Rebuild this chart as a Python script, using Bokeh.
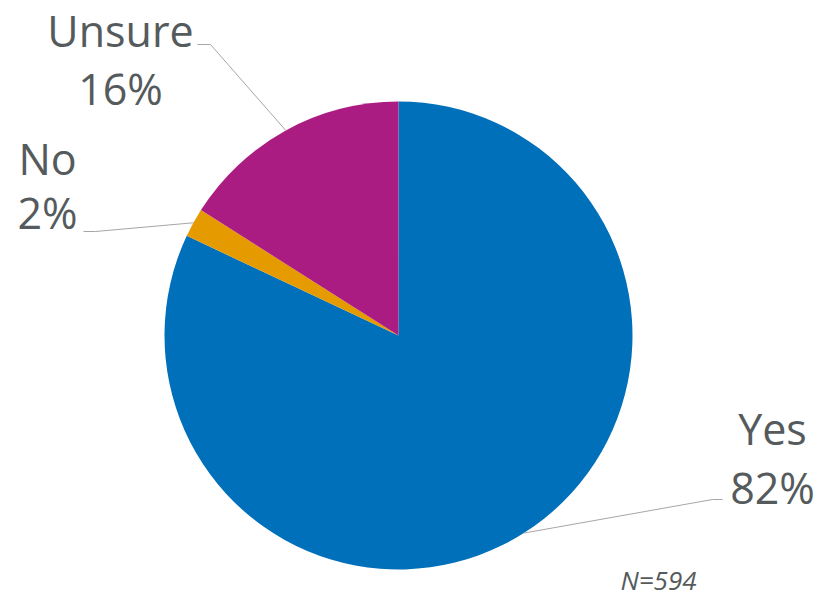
import math
from bokeh.plotting import figure
from bokeh.models import Range1d, ColumnDataSource
from bokeh.core.properties import value
from bokeh.embed import file_html
from bokeh.resources import INLINE

categories = ["Yes", "No", "Unsure"]
percents = [82, 2, 16]
colors = ["#0070BA", "#E59A00", "#AB1C83"]
note = "N=594"

W, H = 818, 600
p = figure(width=W, height=H, output_backend="svg", toolbar_location=None,
           x_range=Range1d(0, W), y_range=Range1d(0, H), min_border=0)
p.axis.visible = False
p.grid.visible = False
p.outline_line_color = None

def Y(y):
    return H - y

cx, cy, r = 398, Y(335), 234
total = sum(percents)
starts, ends, mids = [], [], []
a = 90.0
for v in percents:
    e = a - v / total * 360.0
    starts.append(math.radians(a)); ends.append(math.radians(e))
    mids.append(math.radians((a + e) / 2))
    a = e

src = ColumnDataSource(dict(start=starts, end=ends, color=colors))
p.wedge(x=cx, y=cy, radius=r, start_angle="start", end_angle="end",
        direction="clock", fill_color="color", line_color=None, source=src)

# leader lines: edge point at slice middle -> elbow -> label end
elbows = {"Yes": [(712, 499), (722, 499)], "No": [(95, 231), (83, 231)],
          "Unsure": [(210, 44), (197, 44)]}
for cat, m in zip(categories, mids):
    xs = [cx + r * math.cos(m)] + [pt[0] for pt in elbows[cat]]
    ys = [cy + r * math.sin(m)] + [Y(pt[1]) for pt in elbows[cat]]
    p.line(xs, ys, line_color="#A6A6A6", line_width=1)

label_pos = {"Yes": (772, 428, 487), "No": (47, 158, 212), "Unsure": (120, 30, 88)}
tx, ty, tt = [], [], []
for cat, v in zip(categories, percents):
    x, y1, y2 = label_pos[cat]
    tx += [x, x]; ty += [Y(y1), Y(y2)]; tt += [cat, f"{v}%"]
p.text(x=tx, y=ty, text=tt, text_font=value("Open Sans"), text_font_size="43px",
       text_color="#555B5C", text_align="center", text_baseline="middle")

p.text(x=[658], y=[Y(579)], text=[note], text_font=value("Open Sans"),
       text_font_size="26px", text_font_style="italic", text_color="#555B5C",
       text_align="center", text_baseline="middle")

open("out.html", "w").write(file_html(p, INLINE))
